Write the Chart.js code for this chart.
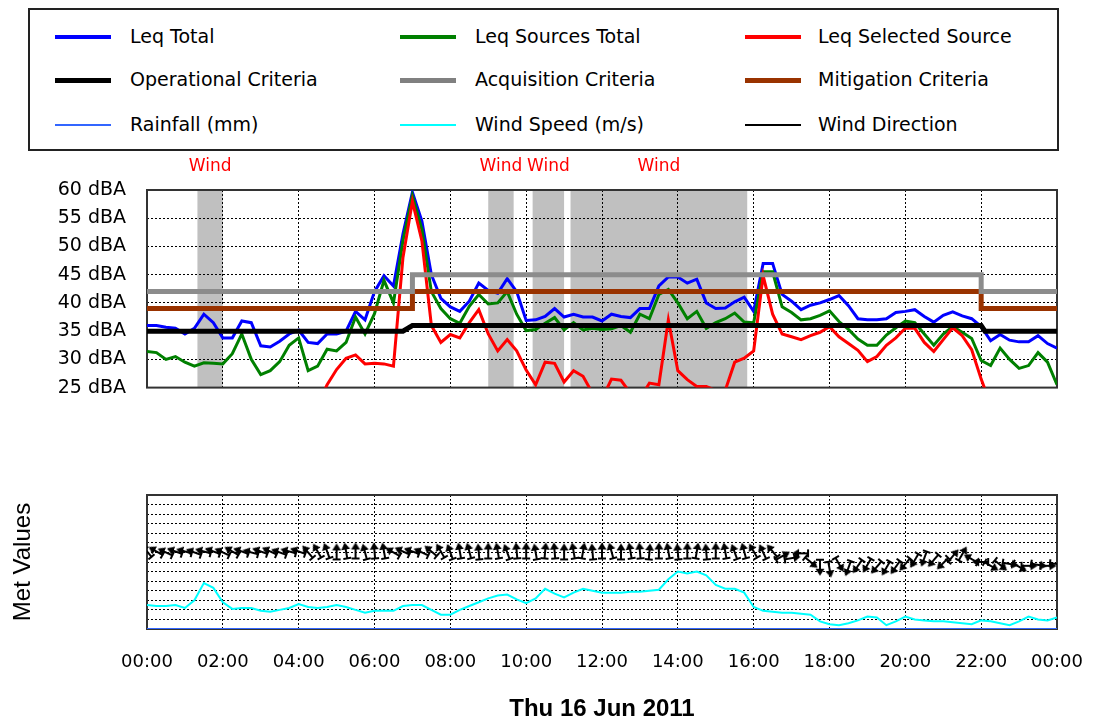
<!DOCTYPE html>
<html>
<head>
<meta charset="utf-8">
<script src="https://cdn.jsdelivr.net/npm/chart.js@4.4.1/dist/chart.umd.min.js"></script>
<style>
  body { margin: 0; background: #fff; width: 1093px; height: 724px; overflow: hidden; position: relative; font-family: "DejaVu Sans", sans-serif; }
  #legend { position: absolute; left: 28px; top: 8px; width: 1031px; height: 143px; border: 2px solid #222; box-sizing: border-box; }
  .sw { position: absolute; width: 56px; }
  .lbl { position: absolute; font-size: 19px; line-height: 22px; color: #000; white-space: nowrap; }
  canvas { position: absolute; left: 0; }
  #top { top: 150px; }
  #bottom { top: 480px; }
</style>
</head>
<body>
<div id="legend"></div>
<canvas id="top" width="1093" height="270"></canvas>
<canvas id="bottom" width="1093" height="244"></canvas>
<script>
// setup: 15 minute samples over the day (hours)
const times = Array.from({ length: 97 }, (_, i) => i * 0.25);

const leqTotal = [36, 36, 35.7, 35.5, 34.5, 35.5, 38, 36.5, 33.8, 33.8,
  36.8, 36.5, 32.4, 32.2, 33.2, 34.5, 35.2, 33, 32.8, 34.5,
  34.5, 35, 38.5, 37, 42, 44.8, 43, 52.2, 59.6, 54.5,
  45, 40.8, 39.3, 38.5, 40.3, 43.5, 42.2, 41.7, 44.3, 42,
  36.9, 37, 37.6, 39, 37.5, 38, 37.5, 37.5, 36.8, 38,
  37.6, 37.4, 39, 39, 43, 44.6, 44.6, 43.5, 44.2, 40,
  39, 39.1, 40.2, 41, 38.5, 47, 47, 41.5, 40.3, 38.8,
  39.6, 40, 40.6, 41.3, 39.5, 37.2, 37, 37, 37.2, 38.3,
  38.5, 38.8, 37.6, 36.6, 37.8, 38.4, 37.7, 37.2, 35.8, 33.3,
  34.4, 33.4, 33.1, 33.1, 34.2, 32.8, 32];

const leqSources = [31.4, 31.2, 30, 30.5, 29.5, 28.8, 29.4, 29.3, 29.2, 31,
  34.5, 30, 27.3, 28, 29.6, 32.5, 33.8, 28, 28.8, 31.8,
  31.5, 33, 37.5, 34.5, 38.1, 44, 40, 51, 59, 53,
  42, 39, 37.2, 36.4, 39.4, 41.5, 39.8, 40, 42, 38,
  35.1, 35.3, 36.4, 37.4, 35.2, 36.5, 35.2, 35.5, 35.3, 35.4,
  36, 34.8, 38, 37.2, 41.5, 42.4, 40, 37.2, 38.5, 35.5,
  36.5, 37.2, 38.2, 36.6, 36.5, 45.5, 45.5, 39.3, 38.3, 37,
  37.2, 37.8, 38.6, 36.7, 35.3, 33.6, 32.5, 32.5, 34.3, 35.6,
  36.8, 36.5, 34.5, 32.5, 34.5, 35.8, 34.8, 33.7, 29.8, 28.9,
  32, 30, 28.4, 28.9, 31.2, 29.5, 25.5];

const leqSelected = [null, null, null, null, null, null, null, null, null, null,
  null, null, null, null, null, null, null, null, 22, 25.5,
  28.2, 30.2, 30.8, 29.2, 29.3, 29.2, 28.8, 48, 58, 51,
  36, 33, 34.4, 33.8, 36.5, 38.8, 34.5, 31.5, 33.5, 31.5,
  28.1, 25.5, 29.5, 29.3, 26, 28, 27, 24, 23, 26.5,
  26.3, 24, 23, 25.8, 25.5, 37, 28, 26.4, 25.2, 25.2,
  24.5, 24.5, 29.5, 30.2, 31.5, 44.8, 38, 34.5, 34, 33.5,
  34.2, 34.8, 35.8, 34, 32.8, 31.6, 29.6, 30.5, 32.5, 33.8,
  35.5, 35.5, 33, 31.4, 33.5, 35.6, 34.2, 31.7, 26.5, 22,
  null, null, null, null, null, null, null];

// criteria steps
const criteriaX = [0, 7, 7, 22, 22, 24];
const acquisition = [42, 42, 45, 45, 42, 42];
const mitigation = [39, 39, 42, 42, 39, 39];
const operationalX = [0, 6.75, 7, 22, 22.1, 24];
const operational = [35, 35, 36, 36, 35, 35];

// wind flagged periods (hours)
const windStart = [1.33, 9.0, 10.17, 11.17];
const windEnd = [2.0, 9.67, 11.0, 15.83];

// met values
const windSpeed = [2.5, 2.4, 2.4, 2.5, 2.2, 3.0, 4.8, 4.3, 2.8, 2.1,
  2.2, 2.2, 1.9, 1.8, 2.0, 2.2, 2.6, 2.3, 2.2, 2.3,
  2.5, 2.3, 2.0, 1.7, 1.9, 1.9, 1.9, 2.4, 2.5, 2.5,
  2.0, 1.5, 1.5, 2.0, 2.4, 2.8, 3.2, 3.5, 3.6, 3.1,
  2.7, 3.2, 4.2, 3.7, 3.3, 3.8, 4.2, 4.0, 3.8, 3.8,
  3.8, 3.9, 3.9, 4.0, 4.1, 5.2, 6.0, 5.8, 6.0, 5.6,
  4.6, 4.2, 4.2, 3.8, 2.3, 1.9, 1.8, 1.7, 1.7, 1.6,
  1.5, 0.8, 0.5, 0.4, 0.6, 0.9, 1.3, 1.2, 0.4, 0.8,
  1.3, 1.0, 0.9, 0.8, 0.8, 0.7, 0.6, 0.5, 0.9, 0.8,
  0.6, 0.4, 0.8, 1.3, 1.0, 0.9, 1.2];

const windDir = [320, 300, 295, 290, 285, 290, 285, 290, 295, 300,
  290, 285, 290, 295, 290, 285, 290, 320, 330, 340,
  0, 350, 0, 345, 355, 350, 300, 295, 290, 295,
  310, 330, 340, 350, 345, 355, 0, 350, 340, 355,
  0, 350, 5, 355, 0, 350, 10, 355, 0, 345,
  0, 350, 355, 5, 0, 350, 355, 0, 10, 355,
  0, 350, 340, 345, 330, 335, 320, 60, 80, 270,
  130, 180, 170, 150, 200, 215, 210, 220, 210, 215,
  220, 210, 200, 220, 225, 40, 30, 300, 270, 120,
  130, 100, 120, 90, 100, 90, 95];

const windDirLevel = [8.1, 8.1, 8.0, 8.1, 8.1, 8.0, 8.1, 8.1, 8.0, 8.1,
  8.1, 8.0, 8.1, 8.1, 8.0, 8.1, 8.1, 8.0, 8.1, 8.1,
  8.0, 8.1, 8.1, 8.0, 8.1, 8.1, 8.0, 8.1, 8.1, 8.0,
  8.1, 8.1, 8.0, 8.1, 8.1, 8.0, 8.1, 8.1, 8.0, 8.1,
  8.1, 8.0, 8.1, 8.1, 8.0, 8.1, 8.1, 8.0, 8.1, 8.1,
  8.0, 8.1, 8.1, 8.0, 8.1, 8.1, 8.0, 8.1, 8.1, 8.0,
  8.1, 8.1, 8.0, 8.1, 8.1, 8.0, 8.1, 7.6, 7.4, 7.9,
  7.0, 6.5, 6.3, 6.8, 6.4, 6.6, 6.7, 6.5, 6.4, 6.5,
  6.8, 7.2, 7.4, 7.2, 6.9, 7.6, 7.8, 7.3, 7.0, 6.6,
  6.7, 6.8, 6.5, 6.6, 6.7, 6.6, 6.8];

const rainHours = [0, 1, 2, 3, 4, 5, 6, 7, 8, 9, 10, 11, 12, 13, 14, 15, 16, 17, 18, 19, 20, 21, 22, 23, 24];
const rainfall = [0, 0, 0, 0, 0, 0, 0, 0, 0, 0, 0, 0, 0, 0, 0, 0, 0, 0, 0, 0, 0, 0, 0, 0, 0];

// legend
const legendItems = [
  ['Leq Total', '#0000ff', 4], ['Leq Sources Total', '#008000', 4], ['Leq Selected Source', '#ff0000', 4],
  ['Operational Criteria', '#000000', 5], ['Acquisition Criteria', '#808080', 5], ['Mitigation Criteria', '#993300', 5],
  ['Rainfall (mm)', '#3366ff', 2], ['Wind Speed (m/s)', '#00ffff', 2], ['Wind Direction', '#000000', 2]
];
const legendEl = document.getElementById('legend');
const colSw = [25, 370, 715], colTx = [100, 445, 788], rowY = [27, 70, 115];
legendItems.forEach((it, k) => {
  const c = k % 3, r = Math.floor(k / 3);
  const sw = document.createElement('div');
  sw.className = 'sw';
  sw.style.left = colSw[c] + 'px';
  sw.style.top = (rowY[r] - it[2] / 2) + 'px';
  sw.style.height = it[2] + 'px';
  sw.style.background = it[1];
  legendEl.appendChild(sw);
  const tx = document.createElement('div');
  tx.className = 'lbl';
  tx.style.left = colTx[c] + 'px';
  tx.style.top = (rowY[r] - 12) + 'px';
  tx.textContent = it[0];
  legendEl.appendChild(tx);
});

const pts = (xs, ys) => ys.map((v, i) => ({ x: xs[i], y: v }));

const windShade = {
  id: 'windShade',
  beforeDraw(chart) {
    const { ctx, chartArea: a, scales: { x } } = chart;
    ctx.save();
    windStart.forEach((s, k) => {
      const x0 = x.getPixelForValue(s), x1 = x.getPixelForValue(windEnd[k]);
      ctx.fillStyle = '#c0c0c0';
      ctx.fillRect(x0, a.top, x1 - x0, a.bottom - a.top);
      ctx.fillStyle = '#ff0000';
      ctx.font = '17px "DejaVu Sans"';
      ctx.textAlign = 'center';
      ctx.textBaseline = 'middle';
      ctx.fillText('Wind', (x0 + x1) / 2, a.top - 23);
    });
    ctx.restore();
  }
};

// plot box, drawn under the lines so the rainfall baseline stays visible
const frame = {
  id: 'frame',
  beforeDatasetsDraw(chart) {
    const { ctx, chartArea: a } = chart;
    ctx.save();
    ctx.strokeStyle = '#333';
    ctx.lineWidth = 2;
    ctx.strokeRect(a.left, a.top, a.right - a.left, a.bottom - a.top);
    ctx.restore();
  }
};

const dotted = { display: false, dash: [2, 2] };
const hourLabel = v => String(v % 24).padStart(2, '0') + ':00';

// upper chart
const lineSet = (label, xs, ys, color, width) => ({
  label, data: pts(xs, ys), borderColor: color, borderWidth: width,
  pointRadius: 0, tension: 0, clip: 0, spanGaps: false
});

new Chart(document.getElementById('top'), {
  type: 'line',
  data: {
    datasets: [
      lineSet('Operational Criteria', operationalX, operational, '#000000', 5),
      lineSet('Acquisition Criteria', criteriaX, acquisition, '#8c8c8c', 5),
      lineSet('Mitigation Criteria', criteriaX, mitigation, '#993300', 5),
      lineSet('Leq Selected Source', times, leqSelected, '#ff0000', 3),
      lineSet('Leq Sources Total', times, leqSources, '#008000', 3),
      lineSet('Leq Total', times, leqTotal, '#0000ff', 3)
    ]
  },
  options: {
    responsive: false,
    animation: false,
    devicePixelRatio: 1,
    layout: { padding: { left: 0, right: 36, top: 40, bottom: 15 } },
    scales: {
      x: {
        type: 'linear', min: 0, max: 24,
        ticks: { display: false, stepSize: 2 },
        grid: { color: '#000', drawTicks: false, lineWidth: 1 },
        border: dotted,
        afterFit: s => { s.height = 0; }
      },
      y: {
        min: 25, max: 60,
        ticks: {
          stepSize: 5, padding: 21, color: '#000',
          font: { family: 'DejaVu Sans', size: 19 },
          callback: v => v + ' dBA'
        },
        grid: { color: '#000', drawTicks: false, lineWidth: 1 },
        border: dotted,
        afterFit: s => { s.width = 147; }
      }
    },
    plugins: { legend: { display: false }, tooltip: { enabled: false } }
  },
  plugins: [windShade, frame]
});

// wind direction marker
const arrow = document.createElement('canvas');
arrow.width = 20; arrow.height = 20;
(() => {
  const g = arrow.getContext('2d');
  g.strokeStyle = '#000'; g.fillStyle = '#000'; g.lineWidth = 2;
  g.beginPath(); g.moveTo(10, 4); g.lineTo(10, 17); g.stroke();
  g.beginPath(); g.moveTo(10, 1); g.lineTo(5.5, 8); g.lineTo(14.5, 8); g.closePath(); g.fill();
  g.beginPath(); g.moveTo(6, 17); g.lineTo(14, 17); g.stroke();
})();

// lower chart
new Chart(document.getElementById('bottom'), {
  type: 'line',
  data: {
    datasets: [
      {
        label: 'Rainfall (mm)', data: pts(rainHours, rainfall), borderColor: '#3366ff',
        borderWidth: 2, pointRadius: 0, tension: 0
      },
      {
        label: 'Wind Direction', data: pts(times, windDirLevel), showLine: false,
        pointStyle: arrow, pointRotation: windDir, pointRadius: 4
      },
      {
        label: 'Wind Speed (m/s)', data: pts(times, windSpeed), borderColor: '#00ffff',
        borderWidth: 2, pointRadius: 0, tension: 0
      }
    ]
  },
  options: {
    responsive: false,
    animation: false,
    devicePixelRatio: 1,
    layout: { padding: { left: 0, right: 36, top: 15, bottom: 0 } },
    scales: {
      x: {
        type: 'linear', min: 0, max: 24,
        ticks: {
          stepSize: 2, autoSkip: false, maxRotation: 0, padding: 23, color: '#000',
          font: { family: 'DejaVu Sans', size: 18 },
          callback: hourLabel
        },
        grid: { color: '#000', drawTicks: false, lineWidth: 1 },
        border: dotted,
        title: {
          display: true, text: 'Thu 16 Jun 2011', color: '#000', padding: 0,
          font: { family: 'Liberation Sans', size: 24, weight: 'bold' }
        },
        afterFit: s => { s.height = 95; s.paddingLeft = 0; s.paddingRight = 0; }
      },
      y: {
        min: 0, max: 14,
        ticks: { display: false, stepSize: 1 },
        grid: { color: '#000', drawTicks: false, lineWidth: 1 },
        border: dotted,
        title: {
          display: true, text: 'Met Values', color: '#000', padding: { top: 9, bottom: 0 },
          font: { family: 'Liberation Sans', size: 24 }
        },
        afterFit: s => { s.width = 147; }
      }
    },
    plugins: { legend: { display: false }, tooltip: { enabled: false } }
  },
  plugins: [frame]
});
</script>
</body>
</html>
